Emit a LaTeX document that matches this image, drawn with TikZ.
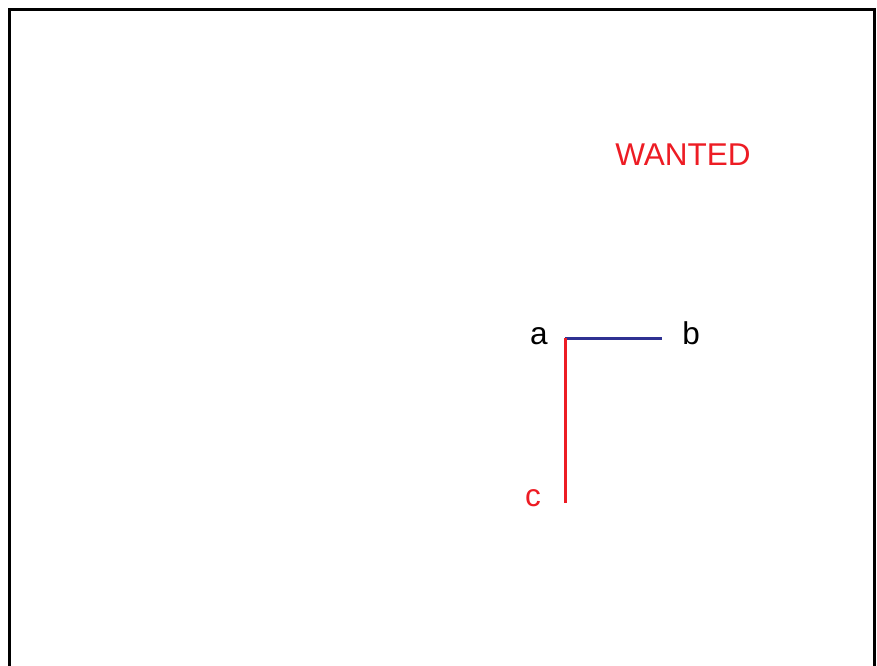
\documentclass[tikz,border=0pt]{standalone}
\usepackage{fontspec}
\setmainfont{Liberation Sans}
\definecolor{labelred}{RGB}{237,28,36}
\definecolor{lineblue}{RGB}{46,49,146}
\begin{document}
\begin{tikzpicture}[x=1pt,y=-1pt,
  lbl/.style={inner sep=0pt,anchor=base,font=\fontsize{31.5}{38}\selectfont},
  seg/.style={line width=3pt}]
\useasboundingbox (0,0) rectangle (877,665);
% open frame, its lower edge lies below the page
\draw[line width=3pt] (9,690) -- (9,9) -- (874,9) -- (874,690);
% labels
\node[lbl,text=labelred] (wanted) at (683,165) {WANTED};
\node[lbl] (a) at (539,344) {a};
\node[lbl] (b) at (691,344) {b};
\node[lbl,text=labelred] (c) at (533,506) {c};
% segments
\coordinate (o) at (565,338);
\coordinate (e) at (662,338);
\coordinate (s) at (565,503);
\draw[seg,lineblue] (o) -- (e);
\draw[seg,labelred] (o) -- (s);
\end{tikzpicture}
\end{document}
